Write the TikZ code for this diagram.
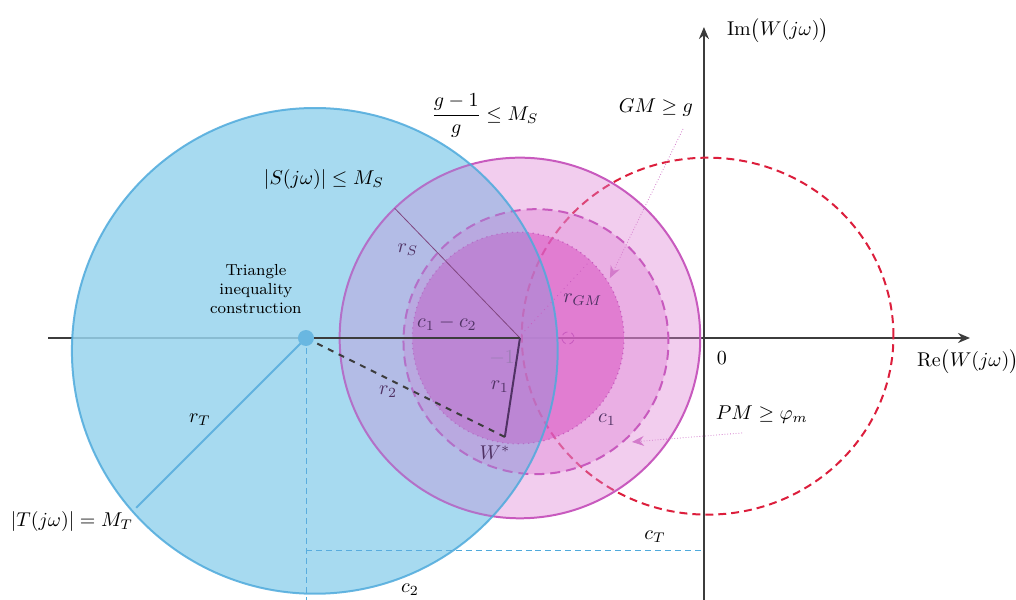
\documentclass[tikz,border=0pt]{standalone}
\usepackage{amsmath}
\usetikzlibrary{arrows.meta}
\definecolor{skyfill}{RGB}{166,226,240}
\definecolor{skyveil}{RGB}{120,180,230}
\definecolor{skyline}{RGB}{79,170,220}
\definecolor{pinkfill}{RGB}{222,130,212}
\definecolor{pinkdeep}{RGB}{216,75,192}
\definecolor{pinkline}{RGB}{200,90,190}
\definecolor{nyqred}{RGB}{220,30,60}
\definecolor{axisgray}{RGB}{60,60,60}
\definecolor{labpurple}{RGB}{80,50,100}
\definecolor{fadelab}{RGB}{158,125,182}
\begin{document}
\begin{tikzpicture}[x=3.24cm,y=3.24cm,>={Stealth[length=6pt,width=5pt]},
    inlab/.style={text=labpurple,inner sep=1pt},
    ring/.style={fill=pinkfill,fill opacity=.4,draw=pinkline,line width=1pt}]
  \def\rS{0.98}\def\rC{0.72}\def\rGM{0.575}\def\rT{1.32}
  \useasboundingbox (-3.826,-1.424) rectangle (1.696,1.837);
  \coordinate (xl) at (-3.565,0); \coordinate (xr) at (1.446,0);
  \coordinate (yb) at (0,-1.424); \coordinate (yt) at (0,1.69);
  \draw[axisgray,line width=1pt,->] (xl) -- (xr);
  \draw[axisgray,line width=1pt,->] (yb) -- (yt);
  % |T| circle and the c_2, c_T guides
  \coordinate (c2) at (-2.163,0); \coordinate (tc) at (-2.115,-0.07);
  \fill[skyfill,opacity=.8] (tc) circle (\rT);
  \coordinate (c2b) at (-2.163,-1.424);
  \coordinate (cTl) at (-2.163,-1.152); \coordinate (cTr) at (0,-1.152);
  \draw[skyline,densely dashed,very thin] (c2) -- (c2b) (cTl) -- (cTr);
  \draw[nyqred,line width=1pt,dash pattern=on 4pt off 2.5pt] (0.02,0.01) ellipse [x radius=1.01,y radius=0.97];
  % |S|, c_1 and GM discs
  \coordinate (m1) at (-1,0); \coordinate (c1) at (-0.913,-0.02); \coordinate (gm) at (-1.01,0);
  \filldraw[ring] (m1) circle (\rS);
  \filldraw[ring,dash pattern=on 5pt off 3pt] (c1) circle (\rC);
  \filldraw[ring,fill=pinkdeep,fill opacity=.5,line width=.6pt,dotted] (gm) circle (\rGM);
  \fill[skyveil,opacity=.25] (tc) circle (\rT);
  \draw[skyline,opacity=.85,line width=1pt] (tc) circle (\rT);
  % radii
  \coordinate (sedge) at ([shift={(134:\rS)}]m1);
  \coordinate (gmedge) at ([shift={(47:\rGM)}]gm);
  \coordinate (tedge) at ([shift={(225:1.305)}]c2);
  \draw[violet!45!gray,thin] (m1) -- (sedge);
  \draw[pinkline,thin,dotted] (gm) -- (gmedge);
  \draw[skyline!90,line width=1pt] (c2) -- (tedge);
  \coordinate (gpt) at (-0.739,0);
  \draw[pinkline,thin,densely dashed] (gpt) circle (0.033);
  % triangle
  \coordinate (ws) at (-1.082,-0.538);
  \draw[axisgray,line width=1pt] (c2) -- (m1);
  \draw[labpurple,line width=1pt] (m1) -- (ws);
  \draw[axisgray,line width=1pt,dashed] (ws) -- (c2);
  \node[circle,fill=skyline!85,inner sep=0,minimum size=8pt] (c2dot) at (c2) {};
  % margin pointers
  \coordinate (gmtail) at (-0.114,1.136); \coordinate (gmtip) at (-0.511,0.326);
  \coordinate (pmtail) at (0.207,-0.516); \coordinate (pmtip) at (-0.391,-0.565);
  \draw[pinkline!80,densely dotted,->] (gmtail) -- (gmtip);
  \draw[pinkline!80,densely dotted,->] (pmtail) -- (pmtip);
  % labels
  \node[align=center,font=\footnotesize] (tri) at (-2.435,0.266) {Triangle\\inequality\\construction};
  \node (slab) at (-2.065,0.859) {$|S(j\omega)|\le M_S$};
  \node (gslab) at (-1.19,1.207) {$\dfrac{g-1}{g}\le M_S$};
  \node (gmlab) at (-0.261,1.25) {$GM\ge g$};
  \node[anchor=west] (imlab) at (0.087,1.672) {$\mathrm{Im}\big(W(j\omega)\big)$};
  \node[anchor=west] (relab) at (1.12,-0.13) {$\mathrm{Re}\big(W(j\omega)\big)$};
  \node (zlab) at (0.098,-0.109) {$0$};
  \node (pmlab) at (0.315,-0.418) {$PM\ge\varphi_m$};
  \node[text=fadelab] (m1lab) at (-1.097,-0.109) {$-1$};
  \node[inlab] (c1lab) at (-0.527,-0.446) {$c_1$};
  \node[inlab] (dlab) at (-1.397,0.082) {$c_1-c_2$};
  \node[inlab] (rslab) at (-1.609,0.478) {$r_S$};
  \node[inlab] (rgmlab) at (-0.658,0.207) {$r_{GM}$};
  \node[inlab] (r1lab) at (-1.109,-0.266) {$r_1$};
  \node[inlab] (r2lab) at (-1.717,-0.293) {$r_2$};
  \node[inlab] (wslab) at (-1.136,-0.625) {$W^*$};
  \node (rtlab) at (-2.739,-0.446) {$r_T$};
  \node (tlab) at (-3.435,-1.0) {$|T(j\omega)|=M_T$};
  \node (ctlab) at (-0.266,-1.082) {$c_T$};
  \node (c2lab) at (-1.598,-1.37) {$c_2$};
\end{tikzpicture}
\end{document}
